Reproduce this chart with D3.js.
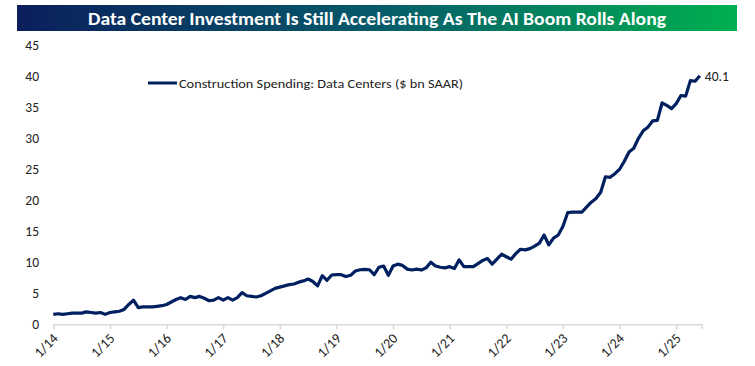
<!DOCTYPE html>
<html><head><meta charset="utf-8">
<script src="https://cdn.jsdelivr.net/npm/d3@7/dist/d3.min.js"></script>
<style>body{margin:0;background:#fff}svg{display:block}</style>
</head><body>
<svg id="c" width="755" height="366"></svg>
<script>
const title = "Data Center Investment Is Still Accelerating As The AI Boom Rolls Along";
const seriesName = "Construction Spending: Data Centers ($ bn SAAR)";
const values = [
 1.6,1.7,1.6,1.7,1.8,1.8,1.8,2.0,1.9,1.8,1.9,1.6,
 1.9,2.0,2.1,2.4,3.2,3.9,2.7,2.8,2.8,2.8,2.9,3.0,
 3.2,3.6,4.0,4.3,4.0,4.5,4.3,4.5,4.2,3.8,3.9,4.3,
 3.9,4.3,3.9,4.3,5.1,4.6,4.5,4.4,4.6,5.0,5.4,5.8,
 6.0,6.2,6.4,6.5,6.8,7.0,7.3,6.9,6.2,7.85,7.1,7.95,
 8.0,8.0,7.7,7.9,8.6,8.8,8.85,8.8,8.0,9.2,9.4,7.9,
 9.4,9.7,9.5,8.9,8.75,8.9,8.75,9.1,10.0,9.4,9.2,9.1,
 9.3,9.0,10.4,9.3,9.3,9.3,9.8,10.3,10.6,9.7,10.5,11.3,
 10.9,10.5,11.4,12.1,12.0,12.2,12.6,13.1,14.4,12.8,13.9,14.4,
 15.8,18.0,18.1,18.1,18.1,18.9,19.7,20.3,21.3,23.8,23.7,24.3,
 25.0,26.3,27.8,28.4,30.0,31.2,31.8,32.8,32.9,35.7,35.3,34.8,
 35.6,36.9,36.8,39.3,39.2,40.1
];
const yTicks = [0,5,10,15,20,25,30,35,40,45];
const xTickLabels = ["1/14","1/15","1/16","1/17","1/18","1/19","1/20","1/21","1/22","1/23","1/24","1/25"];

const svg = d3.select("#c");
const navy = "#002060";

// title bar
const defs = svg.append("defs");
const g = defs.append("linearGradient").attr("id","tg").attr("x1","0").attr("x2","1").attr("y1","0").attr("y2","0");
g.append("stop").attr("offset","0%").attr("stop-color","#0b1f5c");
g.append("stop").attr("offset","50%").attr("stop-color","#065a6a");
g.append("stop").attr("offset","100%").attr("stop-color","#00b050");
svg.append("rect").attr("x",17).attr("y",5).attr("width",720).attr("height",26).attr("fill","url(#tg)");
svg.append("text").attr("x",377).attr("y",25).attr("text-anchor","middle")
  .attr("fill","#fff").attr("font-family","Carlito, 'Liberation Sans Narrow', 'Open Sans', sans-serif")
  .attr("font-weight","700").attr("font-size",18.5)
  .attr("textLength",578).attr("lengthAdjust","spacingAndGlyphs").text(title);

const x = d3.scaleLinear().domain([0,137.4]).range([53.3,701.7]);
const y = d3.scaleLinear().domain([0,45]).range([324.3,45.3]);
const font = "Carlito, Lato, 'Open Sans', sans-serif";

// y axis labels
const ya = svg.append("g").attr("transform","translate(39,0)")
  .call(d3.axisLeft(y).tickValues(yTicks).tickSize(0).tickPadding(0));
ya.select(".domain").remove();
ya.selectAll("text").attr("font-family",font).attr("font-size",13.5).attr("fill","#222");

// x axis
const xa = svg.append("g").attr("transform",`translate(0,${y(0)})`)
  .call(d3.axisBottom(x).tickValues(xTickLabels.map((d,i)=>i*12)).tickSize(5).tickFormat((d,i)=>xTickLabels[i]));
xa.select(".domain").attr("stroke","#d9d9d9").attr("stroke-width",1.5);
xa.selectAll(".tick line").attr("stroke","#d9d9d9").attr("stroke-width",1.5);
xa.selectAll("text").attr("font-family",font).attr("font-size",14).attr("fill","#222")
  .attr("text-anchor","end").attr("dy",0).attr("y",0)
  .attr("transform","translate(5,15) rotate(-45)");

// line
const line = d3.line().x((d,i)=>x(i)).y(d=>y(d));
svg.append("path").datum(values).attr("d",line).attr("fill","none")
  .attr("stroke",navy).attr("stroke-width",3.2).attr("stroke-linejoin","round");

// end label
const last = values.length-1;
svg.append("text").attr("x",x(last)+5).attr("y",y(values[last])+5)
  .attr("font-family",font).attr("font-size",13.5).attr("fill","#222").text(values[last].toFixed(1));

// legend
svg.append("line").attr("x1",148).attr("x2",177).attr("y1",83).attr("y2",83).attr("stroke",navy).attr("stroke-width",3);
svg.append("text").attr("x",179).attr("y",87.5).attr("font-family",font).attr("font-size",12.5).attr("fill","#222")
  .attr("textLength",284).attr("lengthAdjust","spacingAndGlyphs").text(seriesName);
</script>
</body></html>
